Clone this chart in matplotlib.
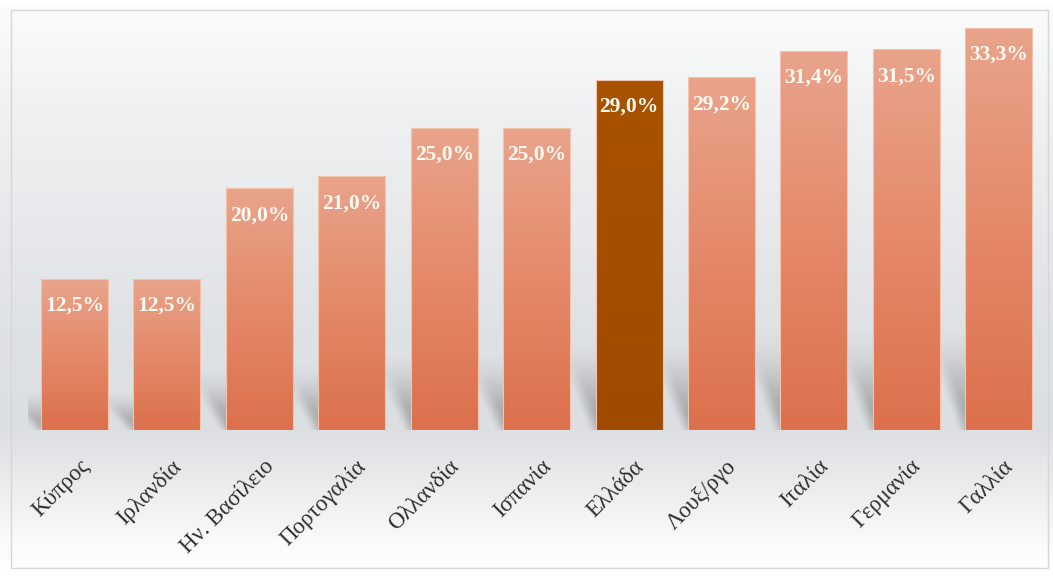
import numpy as np
import matplotlib
matplotlib.use("Agg")
import matplotlib.pyplot as plt
from matplotlib.colors import LinearSegmentedColormap, to_rgb
from matplotlib.patches import Rectangle

# ── data ──────────────────────────────────────────────────────────────
countries = ["Κύπρος", "Ιρλανδία", "Ην. Βασίλειο", "Πορτογαλία", "Ολλανδία",
             "Ισπανία", "Ελλάδα", "Λουξ/ργο", "Ιταλία", "Γερμανία", "Γαλλία"]
values = [12.5, 12.5, 20.0, 21.0, 25.0, 25.0, 29.0, 29.2, 31.4, 31.5, 33.3]
highlight = "Ελλάδα"

W, H, DPI = 1053, 576, 100
SERIF = ["Liberation Serif", "DejaVu Serif"]

fig = plt.figure(figsize=(W / DPI, H / DPI), dpi=DPI)

# ── background gradient + frame ───────────────────────────────────────
bg = fig.add_axes([0, 0, 1, 1], zorder=0)
bg.set_xlim(0, W)
bg.set_ylim(H, 0)
bg.axis("off")
stops = [(0, "#ffffff"), (12, "#fbfbfb"), (120, "#eef0f1"), (330, "#dfe2e5"),
         (430, "#dcdfe2"), (485, "#ebeced"), (545, "#fbfbfb"), (576, "#ffffff")]
rows = np.arange(H)
pos = [p for p, _ in stops]
cols = np.array([to_rgb(c) for _, c in stops])
img = np.stack([np.interp(rows, pos, cols[:, k]) for k in range(3)], axis=-1)[:, None, :]
bg.imshow(img, extent=[0, W, H, 0], aspect="auto")
bg.add_patch(Rectangle((11, 10), 1037, 558, fill=False, edgecolor="#d4d6d8", lw=1))

# ── bars ──────────────────────────────────────────────────────────────
ax = fig.add_axes([28.3 / W, (H - 430) / H, 1016.7 / W, 410.7 / H], zorder=1)
ax.patch.set_alpha(0)
x = np.arange(len(countries))
bars = ax.bar(x, values, width=0.725, facecolor="none",
              edgecolor="#f3c3ac", linewidth=0.8, zorder=4)

normal_cmap = LinearSegmentedColormap.from_list("n", ["#dc704c", "#e4896a", "#e9a48b"])
hi_cmap = LinearSegmentedColormap.from_list("h", ["#a04a00", "#a85300"])
grad = np.linspace(1, 0, 256)[:, None]


def smooth(t):
    t = np.clip(t, 0, 1)
    return t * t * (3 - 2 * t)


for rect, name in zip(bars, countries):
    x0, w, h = rect.get_x(), rect.get_width(), rect.get_height()
    cmap = hi_cmap if name == highlight else normal_cmap
    im = ax.imshow(grad, extent=[x0, x0 + w, 0, h], origin="upper",
                   cmap=cmap, vmin=0, vmax=1, aspect="auto", zorder=3)
    im.set_clip_path(rect)

    # soft skewed shadow, falling up and to the left of the bar
    hs = 0.27 * h
    dx = 0.42
    soft = 0.10
    gx = np.linspace(x0 - dx - soft, x0 + 0.02, 80)
    gy = np.linspace(hs * 1.1, 0, 120)
    GX, GY = np.meshgrid(gx, gy)
    edge = x0 - dx * (GY / hs)
    alpha = smooth((GX - edge + soft) / (2 * soft)) * smooth(1 - GY / hs) ** 1.1 * 0.55
    sh = np.zeros(GX.shape + (4,))
    sh[..., :3] = 0.45
    sh[..., 3] = alpha
    ax.imshow(sh, extent=[gx[0], gx[-1], 0, gy[0]], origin="upper",
              aspect="auto", zorder=2, interpolation="bilinear")

    # value label
    ax.annotate(f"{h:.1f}%".replace(".", ","), xy=(x0 + w / 2, h),
                xytext=(0, -27), textcoords="offset pixels",
                ha="center", va="center", color="#fffaf2",
                fontsize=15.5, fontweight="bold", family=SERIF, zorder=5)

    # category label
    ax.annotate(name, xy=(x0 + w / 2, 0), xytext=(4, -26),
                textcoords="offset pixels", rotation=45, rotation_mode="anchor",
                ha="right", va="top", fontsize=16.5, family=SERIF,
                color="#2e2e2e", annotation_clip=False)

ax.set_xlim(-0.5, len(countries) - 0.5)
ax.set_ylim(0, 34)
ax.set_xticks([])
ax.set_yticks([])
for s in ax.spines.values():
    s.set_visible(False)

fig.savefig("out.png", dpi=DPI)
